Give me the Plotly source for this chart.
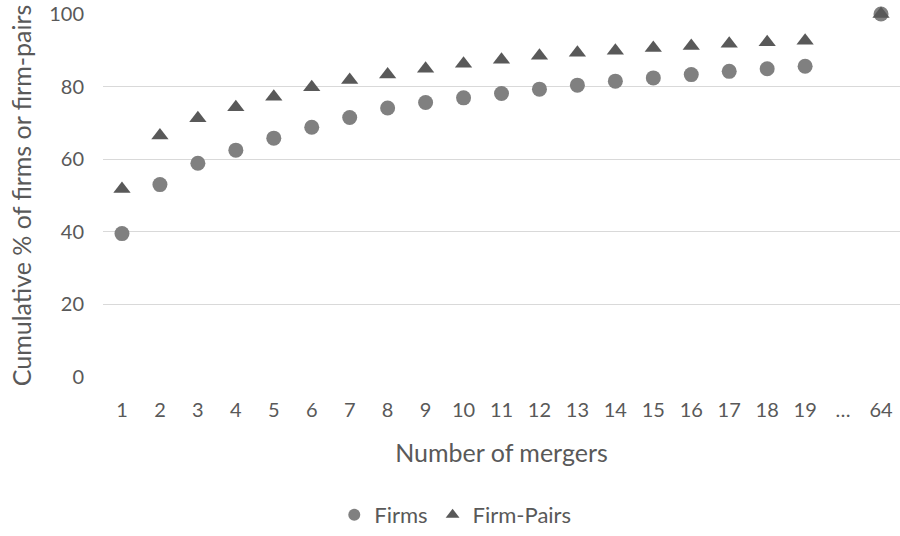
import plotly.graph_objects as go

# number of mergers (the "…" slot is an empty gap before 64)
mergers = ["1", "2", "3", "4", "5", "6", "7", "8", "9", "10", "11", "12",
           "13", "14", "15", "16", "17", "18", "19", "…", "64"]

firms = [39.5, 53.0, 58.9, 62.5, 65.8, 68.8, 71.5, 74.1, 75.6, 76.9, 78.1,
         79.3, 80.4, 81.5, 82.4, 83.3, 84.2, 84.9, 85.6, None, 100.0]

firm_pairs = [51.8, 66.5, 71.3, 74.3, 77.2, 79.8, 81.8, 83.3, 84.9, 86.3, 87.4,
              88.5, 89.3, 89.9, 90.6, 91.2, 91.8, 92.2, 92.6, None, 100.0]

y_ticks = [0, 20, 40, 60, 80, 100]

font_name = "Lato"
text_color = "#595959"

fig = go.Figure()
fig.add_trace(go.Scatter(
    x=mergers, y=firms, name="Firms", mode="markers",
    marker=dict(symbol="circle", size=15, color="#808080"),
    cliponaxis=False,
))
fig.add_trace(go.Scatter(
    x=mergers, y=firm_pairs, name="Firm-Pairs", mode="markers",
    marker=dict(symbol="triangle-up", size=15, color="#595959"),
    cliponaxis=False,
))

fig.update_layout(
    width=900, height=536,
    margin=dict(l=103, r=0, t=14, b=155),
    plot_bgcolor="white", paper_bgcolor="white",
    font=dict(family=font_name, size=20, color=text_color),
    showlegend=True,
    legend=dict(orientation="h", x=0.442, xanchor="center", y=-0.3815, yanchor="middle",
                font=dict(size=22, color=text_color), itemsizing="constant"),
    xaxis=dict(
        type="category", categoryorder="array", categoryarray=mergers,
        range=[-0.5, len(mergers) - 0.5],
        showgrid=False, zeroline=False, showline=False, ticks="",
        ticklabelstandoff=19, automargin=False,
        title=dict(text="Number of mergers", font=dict(size=25, color=text_color), standoff=24),
    ),
    yaxis=dict(
        range=[0, 100], tickvals=y_ticks, showgrid=True, gridcolor="#d9d9d9", gridwidth=1,
        zeroline=False, showline=False, ticks="", ticklabelstandoff=18, automargin=False,
        ticklabeloverflow="allow",
        title=dict(text="Cumulative % of firms or firm-pairs", font=dict(size=25, color=text_color),
                   standoff=10),
    ),
)

# drop the default body margin so the figure sits at the window's corner
fig.write_html("out.html", config={"displayModeBar": False},
               post_script="document.body.style.margin = '0';")
